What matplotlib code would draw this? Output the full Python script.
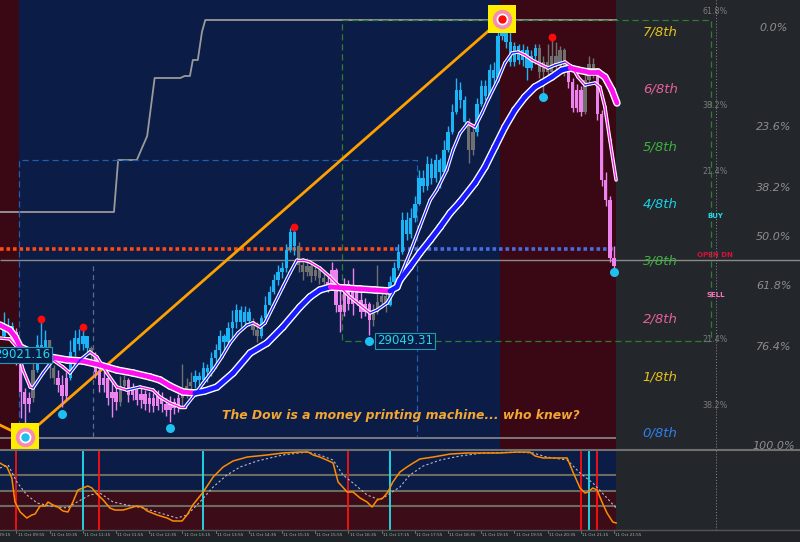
import matplotlib
matplotlib.use("Agg")
import matplotlib.pyplot as plt
import matplotlib.transforms as mtransforms
import numpy as np
from matplotlib.collections import LineCollection

# ---------------- data ----------------
first_open = 29059
close = [29071, 29079, 29067, 29011, 28947, 28923, 28935, 28991, 29041, 29027,
         29051, 28995, 28975, 28961, 28939, 28975, 29027, 29055, 29043, 29059,
         29035, 29021, 28987, 28961, 28975, 28935, 28947, 28927, 28959, 28971,
         28941, 28951, 28931, 28943, 28923, 28935, 28919, 28939, 28923, 28911,
         28927, 28915, 28935, 28947, 28959, 28967, 28979, 28971, 28995, 28987,
         29015, 29031, 29059, 29047, 29075, 29087, 29111, 29087, 29107, 29089,
         29071, 29059, 29095, 29121, 29147, 29171, 29187, 29195, 29231, 29267,
         29239, 29201, 29187, 29199, 29179, 29191, 29175, 29167, 29161, 29191,
         29121, 29107, 29163, 29123, 29151, 29131, 29107, 29123, 29091, 29107,
         29127, 29139, 29121, 29167, 29195, 29227, 29291, 29263, 29295, 29323,
         29375, 29359, 29403, 29375, 29411, 29387, 29431, 29467, 29507, 29551,
         29531, 29487, 29431, 29467, 29523, 29559, 29539, 29591, 29575, 29659,
         29679, 29647, 29607, 29639, 29611, 29631, 29595, 29619, 29635, 29587,
         29607, 29587, 29619, 29599, 29631, 29587, 29567, 29515, 29551, 29507,
         29571, 29603, 29583, 29503, 29371, 29331, 29215, 29199]
high = [29107, 29095, 29087, 29075, 29021, 28955, 28947, 29007, 29061, 29091,
        29071, 29051, 29001, 28991, 28981, 28987, 29051, 29071, 29073, 29071,
        29059, 29039, 29027, 28999, 28995, 28981, 28971, 28961, 28979, 28981,
        28975, 28965, 28959, 28955, 28951, 28947, 28945, 28951, 28947, 28935,
        28939, 28935, 28943, 29003, 28975, 28987, 28991, 28987, 29007, 29003,
        29027, 29043, 29071, 29063, 29087, 29111, 29123, 29119, 29119, 29115,
        29095, 29087, 29101, 29139, 29159, 29183, 29201, 29207, 29243, 29275,
        29275, 29247, 29215, 29215, 29207, 29203, 29199, 29191, 29183, 29207,
        29195, 29151, 29175, 29171, 29195, 29159, 29147, 29135, 29127, 29123,
        29201, 29155, 29151, 29179, 29207, 29243, 29307, 29307, 29315, 29339,
        29391, 29391, 29419, 29415, 29423, 29415, 29451, 29479, 29523, 29575,
        29567, 29539, 29495, 29479, 29535, 29571, 29571, 29603, 29607, 29671,
        29691, 29683, 29675, 29647, 29643, 29643, 29639, 29631, 29643, 29643,
        29619, 29643, 29651, 29647, 29639, 29635, 29603, 29575, 29563, 29559,
        29583, 29619, 29615, 29595, 29511, 29387, 29339, 29239]
low = [29055, 29063, 29055, 29001, 28895, 28857, 28907, 28927, 28987, 29011,
       29019, 28975, 28963, 28947, 28917, 28931, 28971, 29019, 29031, 29031,
       29027, 29011, 28975, 28947, 28947, 28921, 28897, 28911, 28919, 28951,
       28927, 28931, 28921, 28915, 28911, 28907, 28907, 28911, 28907, 28899,
       28887, 28903, 28907, 28915, 28935, 28947, 28955, 28955, 28963, 28967,
       28979, 28995, 29015, 29031, 29039, 29051, 29075, 29077, 29079, 29079,
       29061, 29047, 29055, 29091, 29121, 29143, 29161, 29175, 29187, 29227,
       29221, 29187, 29171, 29179, 29167, 29171, 29163, 29151, 29147, 29151,
       29107, 29067, 29099, 29111, 29101, 29121, 29095, 29099, 29061, 29079,
       29103, 29115, 29107, 29119, 29159, 29191, 29223, 29251, 29255, 29287,
       29321, 29347, 29351, 29363, 29367, 29355, 29381, 29427, 29463, 29503,
       29515, 29475, 29405, 29421, 29459, 29519, 29531, 29535, 29563, 29567,
       29651, 29635, 29599, 29599, 29603, 29599, 29571, 29591, 29603, 29575,
       29537, 29579, 29579, 29591, 29591, 29579, 29555, 29507, 29507, 29499,
       29503, 29567, 29575, 29491, 29359, 29319, 29207, 29187]
# candle colouring (u = up trend, d = down trend, n = neutral)
trend = ("u" * 3 + "d" * 4 + "n" + "u" * 3 + "n" * 2 + "d" * 3 + "u" * 5 + "n" +
         "d" * 6 + "n" * 2 + "d" * 13 + "n" * 3 + "u" * 14 + "n" * 2 + "u" * 9 +
         "n" * 7 + "d" * 11 + "n" * 4 + "u" * 19 + "n" * 2 + "u" * 15 + "n" * 7 +
         "d" * 4 + "n" * 3 + "d" * 5)

# moving averages (bar position, price)
fast_ma_bar = [-1, 1.4, 3.1, 4.6, 6.3, 7, 9.4, 11.8, 14.2, 15.9, 18.3, 20.7, 22.4, 24.8,
               27.2, 29.6, 32.8, 35.9, 37.6, 40, 42.4, 43.6, 45.5, 48, 50.4, 52.5, 54.5,
               56.4, 58.6, 60, 61.7, 62.9, 64.8, 67.2, 68.9, 70.6, 72, 73.7, 76.1, 78.6,
               81, 83.4, 85.8, 88.2, 89.9, 92.3, 93.7, 95.4, 97.8, 100.2, 102.7, 104.3,
               106.7, 108.2, 109.9, 111.8, 113.5, 115.2, 116.6, 119, 120.7, 122.4, 123.9,
               125.5, 127.2, 129.6, 131.1, 132.8, 135.2, 136.9, 138.3, 140, 142.4, 143.6,
               144.8, 146, 147.5]
fast_ma = [29055, 29053, 29037, 28991, 28957, 28955, 28985, 29011, 28997, 28985, 29011,
           29027, 29017, 28985, 28957, 28951, 28957, 28951, 28937, 28925, 28917, 28917,
           28937, 28965, 28991, 29017, 29045, 29065, 29081, 29085, 29077, 29085, 29117,
           29157, 29185, 29211, 29211, 29207, 29195, 29177, 29157, 29137, 29121, 29105,
           29111, 29125, 29145, 29177, 29225, 29277, 29331, 29351, 29391, 29431, 29465,
           29485, 29477, 29505, 29531, 29571, 29605, 29625, 29627, 29621, 29611, 29601,
           29595, 29601, 29607, 29597, 29577, 29561, 29565, 29557, 29517, 29451, 29371]
slow_ma_bar = [-1, 1.4, 2.7, 3.9, 7, 11.1, 15.2, 19, 23.1, 27.2, 31.1, 35.2, 37.6, 40,
               43.1, 46, 48.4, 51.3, 55.2, 59.3, 63.4, 67.2, 71.3, 73.7, 76.1, 78.6, 82.2,
               85.8, 89.4, 93, 94.7, 95.4, 97.8, 100.2, 102.7, 105.1, 107.5, 109.9, 113.5,
               115.9, 118.3, 120.7, 123.1, 125.5, 127.9, 129.6, 132, 134.4, 136.4, 138.3,
               140.7, 143.1, 144.8, 146.5, 147.7]
slow_ma = [29081, 29071, 29057, 29037, 29025, 29017, 29011, 29009, 29001, 28991, 28985,
           28977, 28971, 28959, 28947, 28945, 28949, 28957, 28985, 29025, 29045, 29077,
           29117, 29137, 29151, 29157, 29155, 29153, 29151, 29149, 29157, 29171, 29197,
           29225, 29251, 29277, 29305, 29327, 29365, 29397, 29437, 29477, 29511, 29537,
           29557, 29565, 29577, 29591, 29595, 29591, 29587, 29587, 29577, 29551, 29525]

# fractal dots and swing targets
fractal_hi_bar = [9, 19, 70, 132]
fractal_hi = [29093, 29077, 29277, 29657]
fractal_lo_bar = [14, 40, 88, 130, 147]
fractal_lo = [28903, 28875, 29049, 29537, 29187]
swing_low_bar, swing_low = 5, 28857
swing_high_bar, swing_high = 120, 29693
zigzag_bar = [-4, 5, 120]
zigzag = [28893, 28857, 29693]

# highest-high step line
step_bar = [-1, 26.5, 27.5, 32, 34.5, 36.3, 42.5, 43.5, 44.8, 45.5, 46.7, 47.7, 48.5, 147.5]
step_price = [29307, 29307, 29411, 29411, 29459, 29575, 29575, 29579, 29579, 29611,
              29611, 29667, 29691, 29691]

# horizontal reference levels
open_level = 29233
open_level_switch_bar = 94.2
pivot_level = 29211
range_high, range_low = 29691, 28855

# Murrey math labels
murrey_labels = ["0/8th", "1/8th", "2/8th", "3/8th", "4/8th", "5/8th", "6/8th", "7/8th"]
murrey_prices = [28865, 28977, 29093, 29209, 29323, 29437, 29553, 29667]
murrey_colors = ["#2f80ea", "#e6c11c", "#e8609c", "#3cb33c", "#1ad2e4", "#3cb33c",
                 "#e8609c", "#e6c11c"]

fib_pcts = [0.0, 23.6, 38.2, 50.0, 61.8, 76.4, 100.0]
small_fib_labels = ["61.8%", "38.2%", "21.4%", "21.4%", "38.2%"]
small_fib_prices = [29707, 29521, 29389, 29051, 28921]

# oscillator (bar position, value)
osc_bar = [-1, 0.7, 1.9, 2.65, 3.9, 5.5, 6.7, 7.5, 8.7, 9.9, 10.6, 11.8, 13, 14.2, 15.4,
           16.6, 17.8, 19, 20.2, 21.2, 22.4, 23.9, 25.5, 26.7, 28.7, 30.4, 32, 33.3, 34.5,
           36.9, 39.3, 40.7, 42.9, 44.1, 45.5, 48, 50.4, 52.8, 55.2, 58.6, 63.4, 67.2,
           71.3, 73.3, 74.5, 76.1, 77.8, 79.3, 80.5, 82.7, 84.1, 85.8, 87.5, 88.7, 89.9,
           91.3, 92.5, 93.7, 95.4, 97.1, 98.6, 100.2, 103.4, 107.5, 111.6, 115.4, 119.5,
           123.6, 126.7, 128, 129.9, 132.3, 135.7, 137.1, 138.8, 140, 140.7, 141.9, 142.9,
           144.1, 145.3, 146.7, 147.5]
osc = [84.8, 79.8, 65.8, 35.4, 22.8, 15.2, 19.0, 20.3, 30.4, 30.4, 35.4, 31.7, 29.1, 24.1,
       22.8, 35.4, 50.6, 53.2, 55.7, 53.2, 45.6, 38.0, 27.9, 25.3, 25.3, 27.9, 30.4, 29.1,
       24.1, 19.0, 15.2, 11.4, 11.4, 19.0, 31.7, 48.1, 67.1, 79.8, 87.4, 92.4, 95.0, 97.5,
       98.7, 98.7, 95.0, 92.4, 88.6, 84.8, 60.8, 48.1, 48.1, 40.5, 35.4, 29.1, 38.0, 40.5,
       48.1, 60.8, 73.4, 79.8, 84.8, 89.9, 92.4, 96.2, 97.5, 97.5, 97.5, 98.7, 98.7, 93.7,
       91.2, 91.2, 91.2, 73.4, 53.2, 46.8, 48.1, 53.2, 50.6, 35.4, 21.5, 10.1, 8.9]
sig_bar = [-1, 1, 3.1, 5.5, 8, 11.1, 15.2, 17.6, 20.7, 23.1, 26.3, 29.6, 33.5, 37.6, 41.7,
           44.1, 47.2, 50.4, 53.7, 56.9, 61, 67.2, 73, 76.1, 79.3, 81.7, 84.1, 87.5, 90.6,
           93.5, 95.4, 97.8, 101, 105.1, 109.9, 115.4, 123.6, 127.5, 130.8, 135.7, 138.8,
           141.9, 145.3, 147.5]
sig = [78.5, 82.3, 60.8, 44.3, 34.2, 30.4, 27.9, 35.4, 44.3, 46.8, 35.4, 31.7, 27.9, 21.5,
       15.2, 19.0, 35.4, 54.4, 69.6, 79.8, 87.4, 95.0, 98.7, 95.0, 88.6, 69.6, 59.5, 44.3,
       38.0, 48.1, 54.4, 69.6, 81.0, 88.6, 93.7, 97.5, 98.7, 97.5, 92.4, 88.6, 72.2, 59.5,
       40.5, 27.9]
sell_signal_bars = [3, 23, 83, 139, 143]
buy_signal_bars = [19, 48, 93, 141]

tick_bars = [-5, 3, 11, 19, 27, 35, 43, 51, 59, 67, 75, 83, 91, 99, 107, 115, 123, 131, 139, 147]
tick_labels = ["11 Oct 09:15", "11 Oct 09:55", "11 Oct 10:35", "11 Oct 11:15", "11 Oct 11:55",
               "11 Oct 12:35", "11 Oct 13:15", "11 Oct 13:55", "11 Oct 14:35", "11 Oct 15:15",
               "11 Oct 15:55", "11 Oct 16:35", "11 Oct 17:15", "11 Oct 17:55", "11 Oct 18:35",
               "11 Oct 19:15", "11 Oct 19:55", "11 Oct 20:35", "11 Oct 21:15", "11 Oct 21:55"]

# ---------------- style ----------------
NAVY = "#0b1c47"
DRED = "#390814"
GRAY_BG = "#23272b"
UPC, DNC, NEC = "#1bb4f6", "#ee82ee", "#707070"
LAST = len(close) - 0.5
XMIN, XMAX = -4 / 4.15, 796 / 4.15

fig = plt.figure(figsize=(8, 5.42), dpi=100, facecolor="#1f2226")
ax = fig.add_axes([0, 92 / 542, 1, 450 / 542])
ax2 = fig.add_axes([0, 12 / 542, 1, 80 / 542])
for a in (ax, ax2):
    a.set_facecolor(GRAY_BG)
    for s in a.spines.values():
        s.set_visible(False)
    a.set_yticks([])
    a.set_xticks([])

# session backgrounds
ax.axvspan(XMIN, 3.5, color=DRED, lw=0, zorder=0)
ax.axvspan(3.5, 119.5, color=NAVY, lw=0, zorder=0)
ax.axvspan(119.5, LAST, color=DRED, lw=0, zorder=0)

# reference lines / boxes
ax.plot(step_bar, step_price, color="#9a9a9a", lw=1.3, zorder=1.5)
ax.hlines(pivot_level, XMIN, XMAX, color="#8a8a8a", lw=1.0, zorder=1.5)
ax.hlines(range_low, XMIN, LAST, color="#8a8a8a", lw=1.2, zorder=1.5)
ax.hlines(open_level, XMIN, open_level_switch_bar, color="#ff4a10", lw=2.6,
          linestyles=(0, (1, 0.8)), zorder=2)
ax.hlines(open_level, open_level_switch_bar, LAST, color="#4a6be0", lw=2.6,
          linestyles=(0, (1, 0.8)), zorder=2)
gx0, gx1 = 81.4, 170.4
ax.plot([gx0, gx1, gx1, gx0, gx0], [29691, 29691, 29049, 29049, 29691],
        color="#2f7d32", lw=0.9, ls=(0, (5, 3)), zorder=1.6)
bx0, bx1 = 3.6, 99.5
ax.plot([bx0, bx0, bx1, bx1], [28857, 29411, 29411, 28857],
        color="#1f5fae", lw=0.9, ls=(0, (5, 3)), zorder=1.6)
ax.vlines(21.4, 28857, 29207, color="#5a6a8a", lw=0.9, linestyles=(0, (4, 3)), zorder=1.6)

# zigzag
ax.plot(zigzag_bar, zigzag, color="#ffa000", lw=2.0, zorder=2.5, solid_capstyle="round")

# candles
opens = [first_open] + close[:-1]
cmap = {"u": UPC, "d": DNC, "n": NEC}
cols = [cmap[t] for t in trend]
idx = np.arange(len(close))
ax.vlines(idx, low, high, colors=cols, lw=1.0, zorder=3)
bottoms = np.minimum(opens, close)
heights = np.maximum(np.abs(np.array(close) - np.array(opens)), 2)
ax.bar(idx, heights, bottom=bottoms, width=0.8, color=cols, lw=0, zorder=3)


def draw_ma(xs, ys, core_w, edge_w):
    pts = np.column_stack([xs, ys])
    segs = [pts[k:k + 2] for k in range(len(pts) - 1)]
    colors = ["#1a1aff" if ys[k + 1] > ys[k] else "#ff10f0" for k in range(len(pts) - 1)]
    ax.add_collection(LineCollection(segs, colors="white", linewidths=edge_w,
                                     capstyle="round", joinstyle="round", zorder=4))
    ax.add_collection(LineCollection(segs, colors=colors, linewidths=core_w,
                                     capstyle="round", joinstyle="round", zorder=4.1))


draw_ma(slow_ma_bar, slow_ma, 3.4, 5.4)
draw_ma(fast_ma_bar, fast_ma, 0.9, 2.5)

# fractal dots
ax.plot(fractal_hi_bar, fractal_hi, "o", color="#ff0a0a", ms=5.6, mew=0, zorder=5)
ax.plot(fractal_lo_bar, fractal_lo, "o", color="#1ec0f0", ms=6.5, mew=0, zorder=5)

# targets
for bx, by, cc in [(swing_low_bar, swing_low, "#1ec0f0"), (swing_high_bar, swing_high, "#ff0a0a")]:
    ax.plot(bx, by, "s", color="#ffee00", ms=20, mew=0, zorder=6)
    ax.plot(bx, by, "o", color="#f48cb4", ms=14, mew=0, zorder=6.1)
    ax.plot(bx, by, "o", color="white", ms=8.5, mew=0, zorder=6.2)
    ax.plot(bx, by, "o", color=cc, ms=6, mew=0, zorder=6.3)

# price labels
box = dict(boxstyle="square,pad=0.15", fc=NAVY, ec="#1c9cb0", lw=0.8)
ax.text(89.9, 29049.31, "29049.31", color="#22d8ea", fontsize=8.5, ha="left", va="center",
        bbox=box, zorder=7)
ax.text(11.1, 29021.16, "29021.16", color="#22d8ea", fontsize=8.5, ha="right", va="center",
        bbox=box, zorder=7)

ax.text(52.5, 28901, "The Dow is a money printing machine... who knew?", color="#f2a633",
        fontsize=8.9, fontweight="bold", fontstyle="italic", ha="left", va="center", zorder=7)

# Murrey labels
for lab, p, c in zip(murrey_labels, murrey_prices, murrey_colors):
    ax.text(158.1, p, lab, color=c, fontsize=9.5, fontstyle="italic", ha="center",
            va="center", zorder=7)

# fib % labels on right
for pct in fib_pcts:
    lvl = range_high - pct / 100 * (range_high - range_low)
    ax.annotate(f"{pct:.1f}%", (185.5, lvl), xytext=(0, -8), textcoords="offset pixels",
                color="#8c8c8c", fontsize=8, fontstyle="italic", ha="center", va="center",
                zorder=7)
for lab, p in zip(small_fib_labels, small_fib_prices):
    ax.text(171.4, p, lab, color="#7a7a7a", fontsize=5.8, ha="center", va="center", zorder=7)

ax.text(171.4, 29299, "BUY", color="#22d8ea", fontsize=5, fontweight="bold", ha="center",
        va="center", zorder=7)
ax.text(171.4, 29221, "OPEN DN", color="#d8103c", fontsize=5, fontweight="bold",
        ha="center", va="center", zorder=7)
ax.text(171.4, 29141, "SELL", color="#ff70c0", fontsize=5, fontweight="bold", ha="center",
        va="center", zorder=7)

# ---------------- oscillator panel ----------------
ax2.fill_between([XMIN, LAST], 50, 101.3, color=NAVY, lw=0, zorder=0)
ax2.fill_between([XMIN, LAST], 0, 50, color="#3c0c18", lw=0, zorder=0)
for lvl in (30, 50, 70):
    ax2.hlines(lvl, XMIN, LAST, color="#6b6b5e", lw=1.5, zorder=1)
ax2.vlines(sell_signal_bars, 0, 101.3, color="#ff1010", lw=1.3, zorder=2)
ax2.vlines(buy_signal_bars, 0, 101.3, color="#22e0f0", lw=1.3, zorder=2)
ax2.plot(sig_bar, sig, color="#b8b8c8", lw=0.8, ls=(0, (2, 2)), zorder=3)
ax2.plot(osc_bar, osc, color="#ff8c00", lw=1.1, zorder=4)

for a in (ax, ax2):
    a.axvline(171.6, color="#8a8a8a", lw=0.7, ls=(0, (1, 2)), zorder=1)

# time axis labels (drawn under the oscillator panel)
trans = mtransforms.blended_transform_factory(ax2.transData, ax2.transAxes)
for tb, tl in zip(tick_bars, tick_labels):
    ax2.plot([tb, tb], [0, -0.04], color="#909090", lw=0.5, transform=trans, clip_on=False)
    ax2.text(tb + 0.3, -0.035, tl, color="#b0b0b0", fontsize=3, ha="left", va="top",
             transform=trans, clip_on=False)

ax.set_xlim(XMIN, XMAX)
ax.set_ylim(28831, 29731)
ax2.set_xlim(XMIN, XMAX)
ax2.set_ylim(0, 101.3)

# panel separators
fig.add_artist(plt.Line2D([0, 1], [92 / 542, 92 / 542], color="#707070", lw=1.5))
fig.add_artist(plt.Line2D([0, 1], [12 / 542, 12 / 542], color="#555555", lw=1.0))

fig.savefig("out.png", dpi=100, facecolor=fig.get_facecolor())
